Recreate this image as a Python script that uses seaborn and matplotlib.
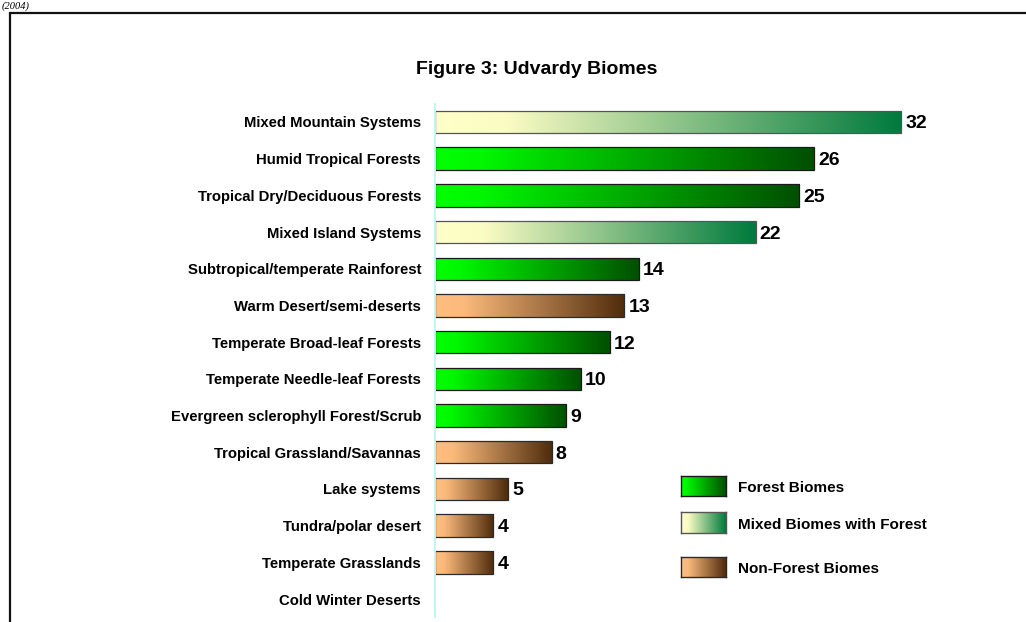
import numpy as np
import pandas as pd
import matplotlib
matplotlib.use("Agg")
import matplotlib.pyplot as plt
from matplotlib.colors import LinearSegmentedColormap
from matplotlib.patches import Rectangle
import seaborn as sns

# ---- data ----
biomes = [
    "Mixed Mountain Systems",
    "Humid Tropical Forests",
    "Tropical Dry/Deciduous Forests",
    "Mixed Island Systems",
    "Subtropical/temperate Rainforest",
    "Warm Desert/semi-deserts",
    "Temperate Broad-leaf Forests",
    "Temperate Needle-leaf Forests",
    "Evergreen sclerophyll Forest/Scrub",
    "Tropical Grassland/Savannas",
    "Lake systems",
    "Tundra/polar desert",
    "Temperate Grasslands",
    "Cold Winter Deserts",
]
counts = [32, 26, 25, 22, 14, 13, 12, 10, 9, 8, 5, 4, 4, 0]
biome_type = ["mixed", "forest", "forest", "mixed", "forest", "nonforest",
              "forest", "forest", "forest", "nonforest", "nonforest",
              "nonforest", "nonforest", "nonforest"]
legend_labels = ["Forest Biomes", "Mixed Biomes with Forest", "Non-Forest Biomes"]
legend_types = ["forest", "mixed", "nonforest"]
title = "Figure 3: Udvardy Biomes"

df = pd.DataFrame({"biome": biomes, "count": counts, "type": biome_type})

cmaps = {
    "forest": LinearSegmentedColormap.from_list(
        "forest", [(0, "#00ff00"), (0.12, "#00f800"), (1, "#004f00")]),
    "mixed": LinearSegmentedColormap.from_list(
        "mixed", [(0, "#ffffc8"), (0.15, "#fbfcc4"), (1, "#007a3d")]),
    "nonforest": LinearSegmentedColormap.from_list(
        "nonforest", [(0, "#ffbf80"), (0.15, "#fbba7c"), (1, "#4f2c0c")]),
}
edge_cols = {"forest": "#1a1a1a", "mixed": "#555555", "nonforest": "#2a2a2a"}

sns.set_style("white")
plt.rcParams["font.family"] = ["Liberation Sans", "DejaVu Sans"]
plt.rcParams["text.color"] = "black"
plt.rcParams["ytick.color"] = "black"
plt.rcParams["ytick.labelcolor"] = "black"

W, H = 1026, 622
fig = plt.figure(figsize=(W / 100, H / 100), dpi=100)
ax = fig.add_axes([435 / W, 1 - 617.4 / H, (1018 - 435) / W, (617.4 - 103.6) / H])

sns.barplot(data=df, x="count", y="biome", orient="h", color="white",
            width=0.61, ax=ax, linewidth=0.9, edgecolor="#222222")

grad = np.linspace(0, 1, 256).reshape(1, -1)
bars = list(ax.containers[0])
for i, p in enumerate(bars):
    w = p.get_width()
    if w <= 0:
        p.set_visible(False)
        continue
    x0, y0, h = p.get_x(), p.get_y(), p.get_height()
    t = biome_type[i]
    im = ax.imshow(grad, cmap=cmaps[t], aspect="auto",
                   extent=(x0, x0 + w, y0 + h, y0), zorder=0.8,
                   interpolation="bilinear")
    im.set_clip_path(p)
    p.set_facecolor("none")
    p.set_edgecolor(edge_cols[t])
    p.set_zorder(2)

labels = [str(v) if v > 0 else "" for v in counts]
texts = ax.bar_label(ax.containers[0], labels=labels, padding=3,
                     fontsize=14, fontweight="bold", color="black")
for tx in texts:
    tx.set_va("center_baseline")

ax.set_xlim(0, 40)
ax.set_ylim(len(biomes) - 0.5, -0.5)
ax.set_xticks([])
ax.set_xlabel("")
ax.set_ylabel("")
ax.tick_params(axis="y", length=0, pad=10)
for lab in ax.get_yticklabels():
    lab.set_fontweight("bold")
    lab.set_fontsize(10.7)
    lab.set_color("black")
for s in ["top", "right", "bottom"]:
    ax.spines[s].set_visible(False)
ax.spines["left"].set_color("#c4f4f4")
ax.spines["left"].set_linewidth(1.4)
ax.patch.set_alpha(0)

# title
fig.text(536.5 / W, 1 - 69 / H, title, ha="center", va="center",
         fontsize=14, fontweight="bold", color="black")

# legend swatches
sw = [(476, 496), (512, 533), (557, 577)]
ty = [488, 525, 568.8]
for (top, bot), yc, lt, ll in zip(sw, ty, legend_types, legend_labels):
    lax = fig.add_axes([681 / W, 1 - bot / H, 45 / W, (bot - top) / H])
    lax.imshow(grad, cmap=cmaps[lt], aspect="auto", interpolation="bilinear")
    lax.set_xticks([])
    lax.set_yticks([])
    for s in lax.spines.values():
        s.set_color(edge_cols[lt])
        s.set_linewidth(1.0)
    fig.text(738 / W, 1 - yc / H, ll, ha="left", va="center",
             fontsize=11, fontweight="bold", color="black")

# frame around the chart (continues beyond the crop)
fig.add_artist(Rectangle((9.5 / W, -0.2), 1.3, (1 - 12.5 / H) + 0.2,
                         transform=fig.transFigure, fill=False,
                         edgecolor="#111111", linewidth=1.6))

# caption fragment from the document above (kept small so it fits)
fig.text(2 / W, 1 - 1 / H, "(2004)", ha="left", va="top",
         fontsize=7.5, style="italic", family=["Liberation Serif", "DejaVu Serif"],
         color="black")

fig.savefig("out.png", dpi=100)
